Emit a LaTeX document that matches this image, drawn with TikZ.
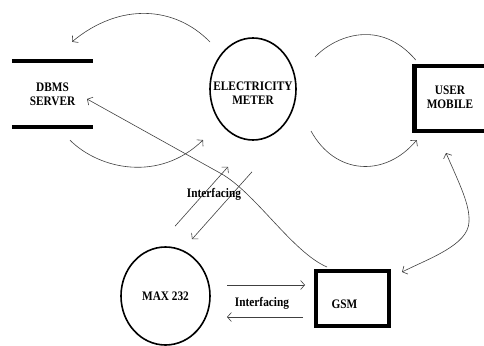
\documentclass[tikz,border=0pt]{standalone}
\usepackage{fontspec}
\setmainfont{Liberation Serif}[FakeStretch=0.87, BoldFeatures={FakeStretch=0.87}]
\usetikzlibrary{shapes.geometric,arrows.meta,calc}
\tikzset{
  lbl/.style={font=\bfseries\fontsize{13}{14}\selectfont, align=center, inner sep=0pt},
  store/.style={lbl, minimum width=81pt, minimum height=66pt},
  storeline/.style={line width=4pt},
  proc/.style={ellipse, draw, line width=1.6pt, inner sep=0pt},
  ext/.style={rectangle, draw, line width=4.5pt, inner sep=0pt},
  flowline/.style={draw=black!75, line width=0.6pt},
  flow/.style={flowline, -{Straight Barb[length=4pt,width=9pt]}},
  biflow/.style={flowline, {Straight Barb[length=4pt,width=9pt]}-{Straight Barb[length=4pt,width=9pt]}}
}

\begin{document}
\begin{tikzpicture}[x=1pt,y=-1pt]
  \useasboundingbox (0,0) rectangle (484,345);
  \node[store] (dbms) at (52.5,94) {DBMS\\SERVER};
  \draw[storeline] (dbms.north west) -- (dbms.north east);
  \draw[storeline] (dbms.south west) -- (dbms.south east);
  \node[proc, minimum width=86pt, minimum height=102pt] (meter) at (253,89) {};
  \node[lbl] (metertxt) at ($(meter)+(0,4)$) {ELECTRICITY\\METER};
  \node[ext, minimum width=73.5pt, minimum height=65pt] (mobile) at (451,98.5) {};
  \node[lbl] (mobiletxt) at ($(mobile)+(-1,-1)$) {USER\\MOBILE};
  \node[proc, minimum width=89pt, minimum height=98pt] (maxic) at (165.5,296) {};
  \node[lbl] (maxtxt) at (maxic) {MAX 232};
  \node[ext, minimum width=73pt, minimum height=55pt] (gsm) at (352.5,298.5) {};
  \node[lbl] (gsmtxt) at ($(gsm)+(-8,5.5)$) {GSM};

  \draw[flow] ($(meter)+(-43,-47)$) .. controls (175,6) and (120,2) .. ($(dbms.north)+(19.5,-19)$);
  \draw[flow] ($(dbms.south)+(17.5,13)$) .. controls (100,170) and (160,182) .. ($(meter)+(-50,51)$);
  \draw[flowline] ($(meter)+(62,-32)$) .. controls (335,36) and (380,18) .. ($(mobile.north west)+(3.75,-3.75)$);
  \draw[flow] ($(meter)+(58,42)$) .. controls (335,175) and (385,178) .. ($(mobile.south west)+(4.75,6.75)$);
  \draw[flow] ($(gsm.north west)+(13.25,-1.75)$) .. controls (292,252) and (255,192) .. (220,173) -- ($(dbms)+(34.5,5)$);
  \draw[biflow] ($(mobile.south)+(-5,19.75)$) .. controls (460,185) and (470,205) .. (469,222) .. controls (468,245) and (430,258) .. ($(gsm.north east)+(10.75,3.25)$);

  \draw[flow] ($(maxic.north)+(9.5,-20)$) -- ($(meter.south)+(-25,26)$);
  \draw[flow] ($(meter.south)+(-1,31)$) -- ($(maxic.north)+(26.5,-7)$);
  \node[lbl] (ifupper) at (214,194) {Interfacing};
  \draw[flow] ($(maxic)+(61.5,-11)$) -- ($(gsm.west)+(-8.75,-13.5)$);
  \draw[flow] ($(gsm.west)+(-10.75,18.5)$) -- ($(maxic)+(61.5,21)$);
  \node[lbl] (iflower) at (262,303) {Interfacing};
\end{tikzpicture}
\end{document}
